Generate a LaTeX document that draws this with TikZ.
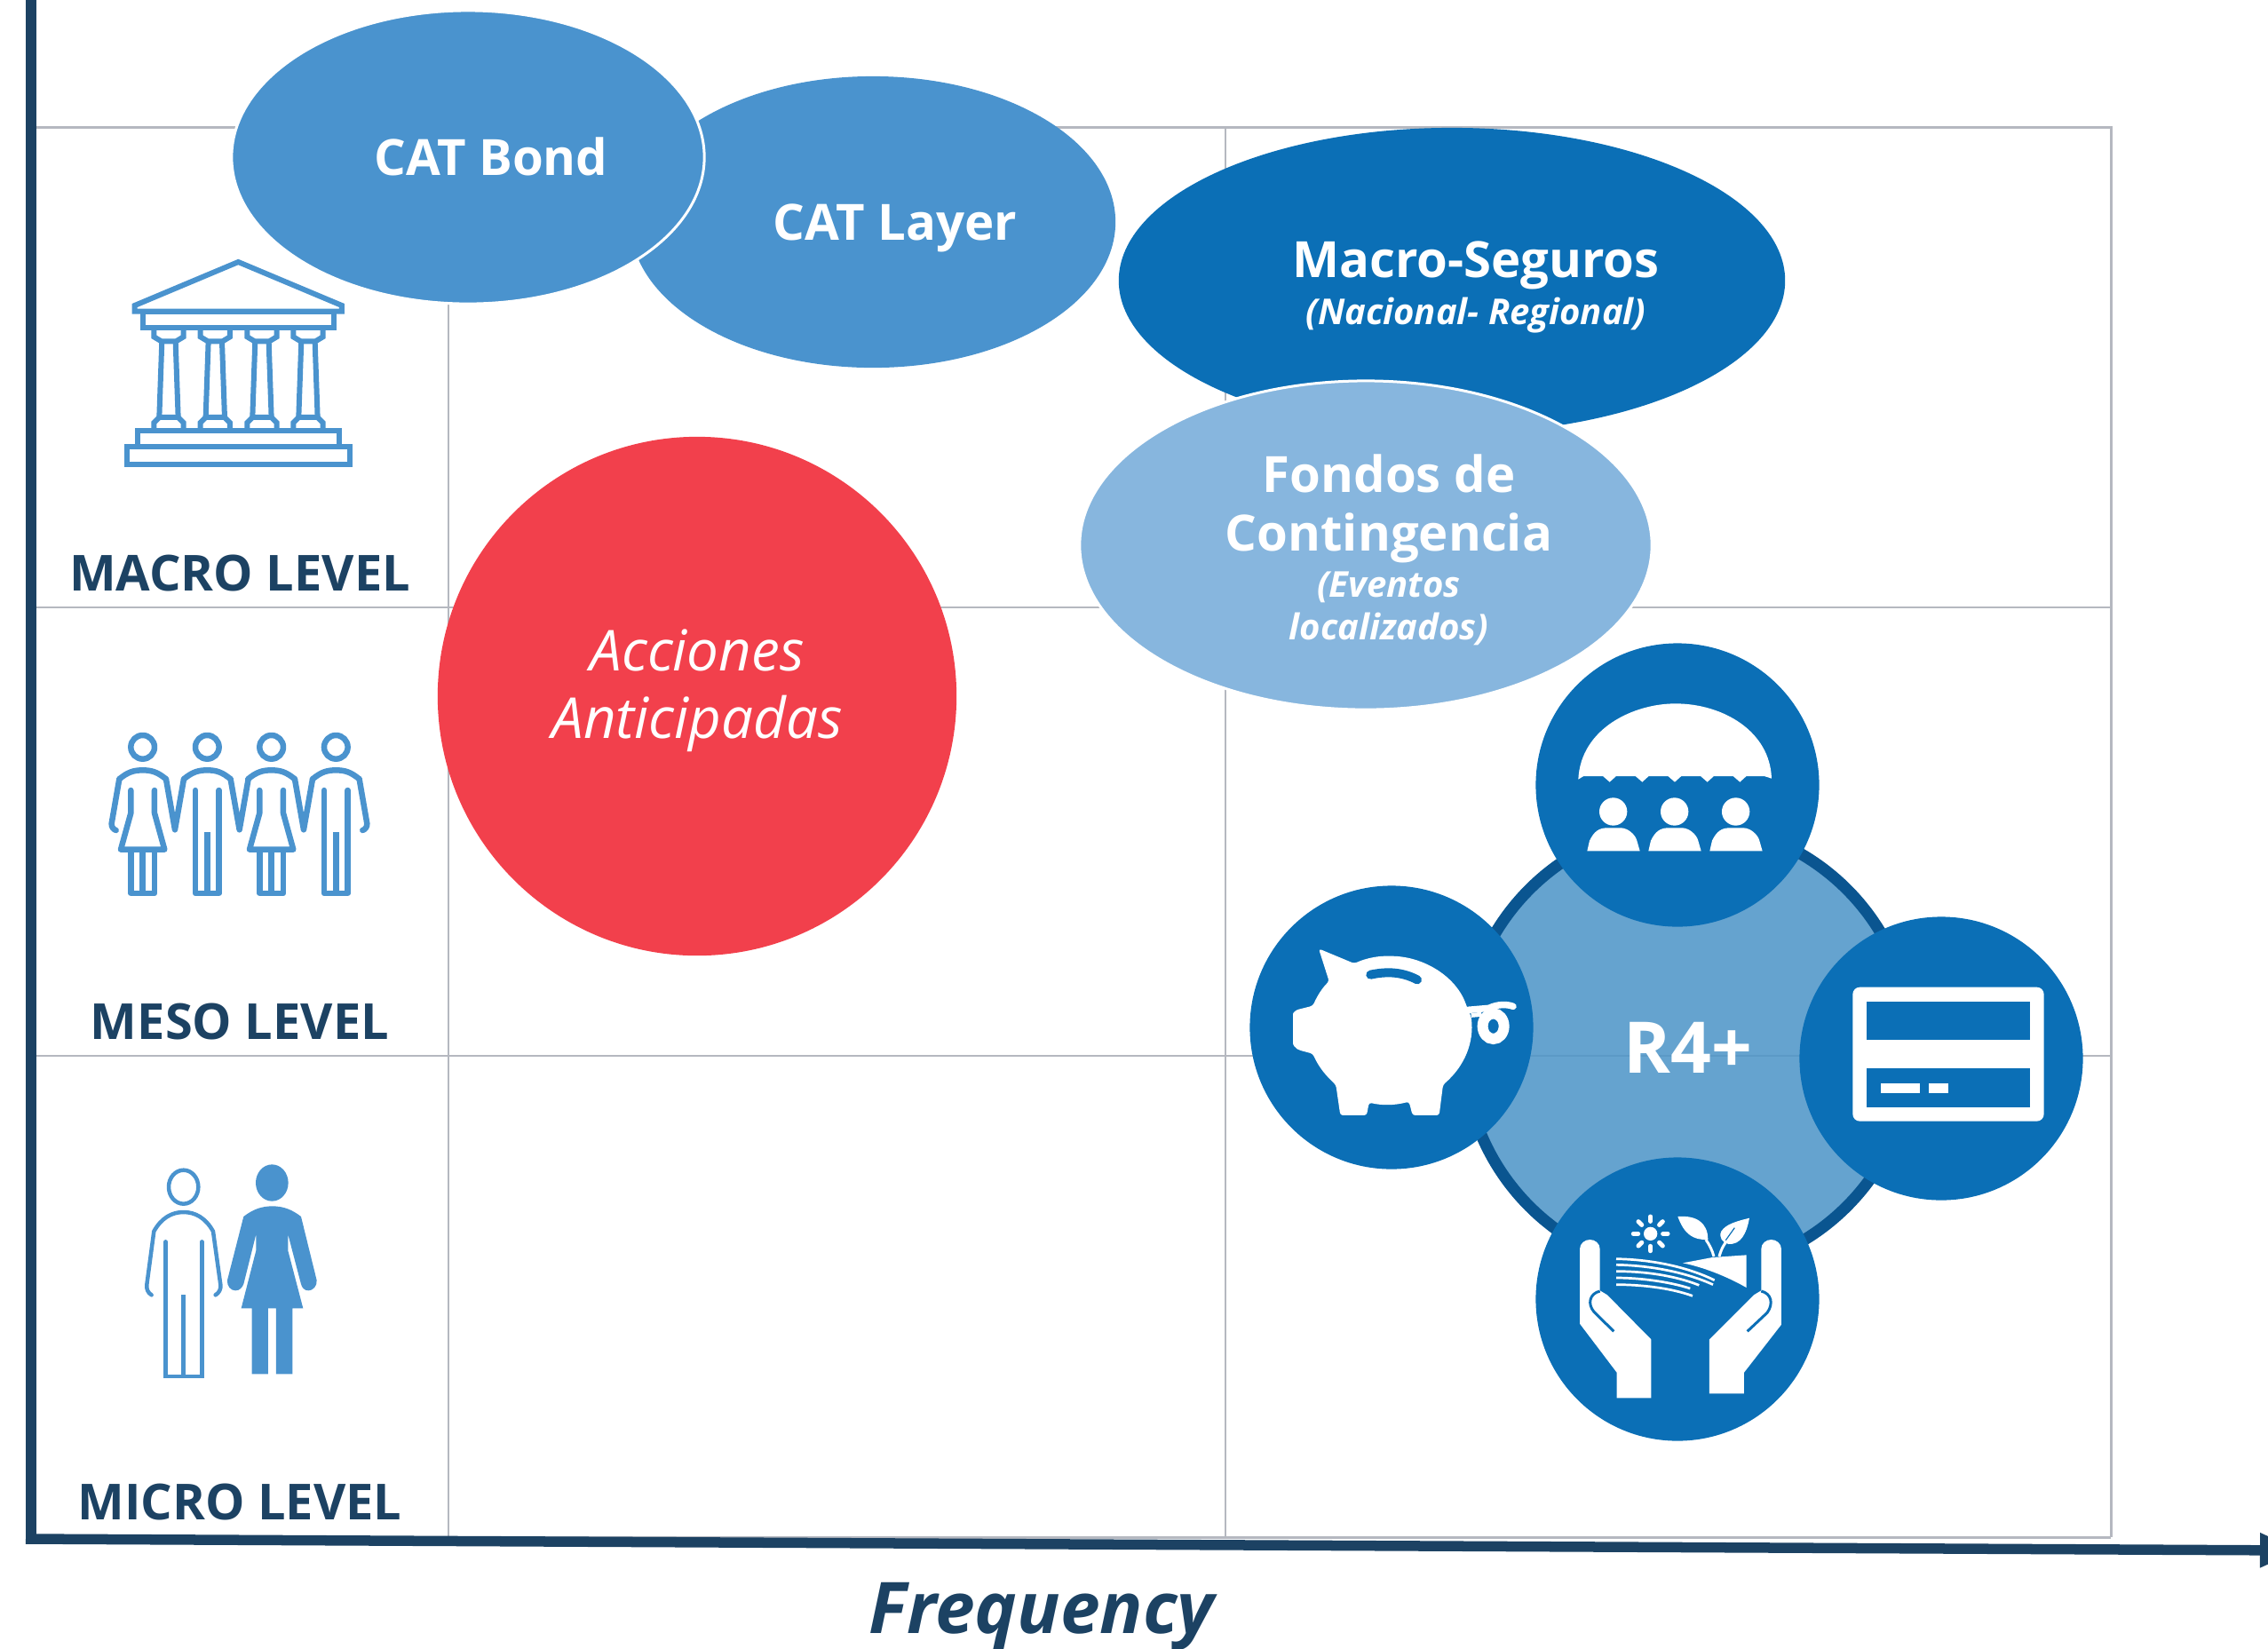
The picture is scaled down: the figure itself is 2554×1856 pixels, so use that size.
\documentclass[tikz,border=0pt]{standalone}
\usepackage{fontspec}
\setmainfont{Open Sans}
\usetikzlibrary{arrows.meta}
\usetikzlibrary{positioning,shapes.geometric,calc}
\definecolor{axisblue}{HTML}{1C4263}
\definecolor{gridgray}{HTML}{B5B8C0}
\definecolor{midblue}{HTML}{4A93CE}
\definecolor{deepblue}{HTML}{0B6FB6}
\definecolor{paleblue}{HTML}{87B6DE}
\definecolor{coral}{HTML}{F2404C}
\definecolor{ringblue}{HTML}{0A5590}
\definecolor{ringfill}{HTML}{4E95C8}
\tikzset{
    blob/.style={
        ellipse,
        inner sep=0pt,
        fill=#1
    },
    iconcirc/.style={
        circle,
        inner sep=0pt,
        fill=deepblue,
        minimum size=3.19cm
    },
    bigtext/.style={
        text=white,
        font=\bfseries\fontsize{16}{20}\selectfont
    },
    subtext/.style={
        text=white,
        font=\bfseries\itshape\fontsize{11.4}{14}\selectfont
    },
    redtext/.style={
        text=white,
        font=\itshape\fontsize{18.1}{22}\selectfont
    },
    levelname/.style={
        text=axisblue,
        font=\bfseries\fontsize{15.9}{20}\selectfont
    },
    gridline/.style={
        draw=gridgray,
        line width=0.025cm
    },
    axisline/.style={
        draw=axisblue,
        line width=0.115cm
    }
}

\begin{document}
\begin{tikzpicture}[x=0.01cm,y=-0.01cm]
  \clip (0,0) rectangle (2554,1856);

  % Grid
  \draw[gridline,line width=0.03cm] (39,143) -- (2377,143) -- (2377,1731);
  \draw[gridline] (39,684) -- (2377,684);
  \draw[gridline] (39,1189) -- (2377,1189);
  \draw[gridline] (505,143) -- (505,1731);
  \draw[gridline] (1380,143) -- (1380,1731);
  \draw[gridline,line width=0.03cm] (39,1731) -- (2377,1731);

  % Axes
  \coordinate (axtop) at (35,0);
  \coordinate (axorigin) at (35,1733);
  \coordinate (axend) at (2590,1746);
  \draw[axisline] (axtop) -- (35,1739);
  \draw[axisline,-{Triangle[length=0.45cm,width=0.36cm]}] (29,1733) -- (axend);

  % Level names
  \node[levelname] (macrotxt) at (270,645) {MACRO LEVEL};
  \node[levelname] (mesotxt) at (270,1150) {MESO LEVEL};
  \node[levelname] (microtxt) at (270,1691) {MICRO LEVEL};
  \node[text=axisblue,font=\bfseries\itshape\fontsize{22.8}{26}\selectfont] (freqtxt) at (1173,1820) {Frequency};

  % Instruments
  \node[blob=midblue,minimum width=5.46cm,minimum height=3.28cm] (catlayer) at (983,250) {};
  \node[blob=midblue,draw=white,line width=0.03cm,minimum width=5.32cm,minimum height=3.3cm] (catbond) at (527,177) {};
  \node[bigtext] (bondtxt) at (553,176) {CAT Bond};
  \node[bigtext] (layertxt) at (1008,257) {CAT Layer};
  \node[blob=deepblue,minimum width=7.5cm,minimum height=3.44cm] (macroseg) at (1635,316) {};
  \node[blob=paleblue,draw=white,line width=0.03cm,minimum width=6.44cm,minimum height=3.7cm] (fondos) at (1538,614) {};
  \node[bigtext] (segtxt) at (1662,299) {Macro-Seguros};
  \node[subtext] (segsub) at (1662,355) {(Nacional- Regional)};
  \node[bigtext] (fondtxta) at (1564,533) {Fondos de};
  \node[bigtext] (fondtxtb) at (1564,606) {Contingencia};
  \node[subtext] (fondsuba) at (1564,661) {(Eventos};
  \node[subtext] (fondsubb) at (1564,708) {localizados)};
  \node[blob=coral,circle,minimum size=5.84cm] (acciones) at (785,784) {};
  \node[redtext] (acctxta) at (785,732) {Acciones};
  \node[redtext] (acctxtb) at (785,815) {Anticipadas};

  % R4+ ring
  \node[circle,inner sep=0pt,minimum size=5.05cm,draw=ringblue,line width=0.13cm,fill=ringfill,fill opacity=0.87] (ring) at (1901,1180) {};
  \node[text=white,font=\bfseries\fontsize{22.8}{25}\selectfont] (ringtxt) at (1901,1180) {R4+};
  \node[iconcirc] (umbrella) at (1889,884) {};
  \node[iconcirc] (piggy) at (1567,1157) {};
  \node[iconcirc] (hands) at (1889,1463) {};
  \node[iconcirc] (card) at (2186,1192) {};

  % Bank
  \begin{scope}[shift={(100,260)},scale=0.3333,midblue,line width=0.06cm]
    \draw (505,105) -- (155,252) -- (155,272) -- (855,272) -- (855,252) -- cycle;
    \draw (183,272) rectangle (828,327);
    \foreach \x in {270,427,585,741}{
      \begin{scope}[shift={(\x,0)}]
        \draw (-50,327) -- (-50,358) -- (-25,373) -- (25,373) -- (50,358) -- (50,327);
        \draw (-23,373) -- (-32,630) -- (32,630) -- (23,373);
        \draw (-32,630) -- (-50,648) -- (-50,675);
        \draw (32,630) -- (50,648) -- (50,675);
      \end{scope}
    }
    \draw (165,675) rectangle (847,730);
    \draw (128,730) rectangle (883,788);
  \end{scope}

  % Four people
  \begin{scope}[shift={(100,800)},scale=0.3333,midblue,line width=0.065cm,line cap=round,line join=round]
    \foreach \x in {182,400,617,835}{
      \draw (\x,124) circle [radius=40];
      \begin{scope}[shift={(\x,0)}]
        \draw (-79,232) .. controls (-50,208) and (-30,202) .. (0,202) .. controls (30,202) and (50,208) .. (79,232);
      \end{scope}
    }
    \foreach \x in {291,509,726}{
      \begin{scope}[shift={(\x,0)}]
        \draw (-30,232) -- (0,403) -- (30,232);
      \end{scope}
    }
    \draw (92,405) .. controls (82,402) and (76,392) .. (77,382) -- (103,232);
    \draw (925,405) .. controls (935,402) and (941,392) .. (940,382) -- (914,232);
    \foreach \x in {182,617}{
      \begin{scope}[shift={(\x,0)}]
        \draw (-40,270) -- (-40,347) -- (-74,470) -- (74,470) -- (40,347) -- (40,270);
        \draw[line cap=butt] (-40,470) -- (-40,618) -- (40,618) -- (40,470);
        \draw[line cap=butt] (0,470) -- (0,618);
      \end{scope}
    }
    \foreach \x in {400,835}{
      \begin{scope}[shift={(\x,0)}]
        \draw (-40,270) -- (-40,618) -- (40,618) -- (40,270);
        \draw[line cap=butt] (0,412) -- (0,618);
      \end{scope}
    }
  \end{scope}

  % Two people
  \begin{scope}[shift={(140,1290)},scale=0.3333,midblue,line width=0.045cm,line cap=round,line join=round]
    \draw (200,140) ellipse [x radius=50,y radius=57];
    \draw (92,505) .. controls (80,498) and (74,485) .. (76,470) -- (100,290) .. controls (125,245) and (160,225) .. (200,225) .. controls (240,225) and (275,245) .. (300,290) -- (325,470) .. controls (327,485) and (320,498) .. (308,505);
    \draw[line join=miter] (140,325) -- (140,780) -- (262,780) -- (262,325);
    \draw[line cap=butt] (200,505) -- (200,780);
    \fill (499,126) ellipse [x radius=55,y radius=62];
    \fill (403,240) .. controls (435,215) and (465,205) .. (500,205) .. controls (535,205) and (565,215) .. (597,240)
      -- (650,455) .. controls (652,475) and (637,490) .. (622,490) .. controls (608,490) and (600,480) .. (597,468)
      -- (553,300) -- (553,355) -- (604,550) -- (568,550) -- (568,772) -- (513,772) -- (513,550) -- (486,550) -- (486,772) -- (431,772) -- (431,550) -- (395,550) -- (445,355) -- (445,300)
      -- (403,468) .. controls (398,480) and (390,490) .. (375,490) .. controls (360,490) and (346,475) .. (348,455) -- cycle;
  \end{scope}

  % Umbrella icon
  \begin{scope}[shift={(1700,710)},scale=0.3333,white]
    \fill (232,503) .. controls (240,330) and (420,247) .. (560,247) .. controls (720,247) and (880,340) .. (885,500)
      -- (860,492) -- (800,492) -- (778,512) -- (755,492) -- (690,492) -- (668,512) -- (645,492) -- (580,492) -- (558,512) -- (535,492)
      -- (470,492) -- (448,512) -- (425,492) -- (360,492) -- (338,512) -- (315,492) -- (250,492) -- cycle;
    \foreach \x in {0,207,414}{
      \begin{scope}[shift={(\x,0)}]
        \fill (350,612) circle [radius=47];
        \fill (262,745) -- (270,710) .. controls (285,680) and (300,667) .. (330,667) -- (375,667) .. controls (400,667) and (425,690) .. (430,710) -- (440,745) -- cycle;
      \end{scope}
    }
  \end{scope}

  % Piggy icon
  \begin{scope}[shift={(1390,980)},scale=0.3333,white]
    \fill[rounded corners=0.03cm] (285,265) -- (405,315) .. controls (450,295) and (490,290) .. (520,290) .. controls (640,290) and (750,360) .. (785,460)
      -- (800,495) .. controls (810,580) and (780,660) .. (705,725) -- (692,828) -- (602,828) -- (590,782) .. controls (540,795) and (500,795) .. (455,785) -- (447,828) -- (358,828) -- (343,725)
      .. controls (310,695) and (285,665) .. (265,620) -- (220,608) .. controls (205,600) and (198,590) .. (198,575) -- (198,495) .. controls (198,480) and (210,472) .. (225,468) -- (265,458)
      .. controls (280,425) and (295,400) .. (320,375) -- cycle;
    \draw[deepblue,line width=0.1cm,line cap=round] (460,353) .. controls (520,340) and (570,345) .. (618,370);
    \draw[line width=0.075cm,line cap=round] (790,472) -- (860,466) .. controls (890,452) and (920,452) .. (942,460);
    \draw[line width=0.05cm] (800,490) -- (835,487);
    \draw[line width=0.12cm] (875,527) ellipse [x radius=36,y radius=43];
  \end{scope}

  % Hands icon
  \begin{scope}[shift={(1710,1290)},scale=0.3333,white]
    \fill (207,350) .. controls (207,330) and (225,318) .. (241,318) .. controls (258,318) and (275,330) .. (275,350) -- (275,490) -- (300,505) -- (448,655) -- (448,853) -- (332,853) -- (332,767) -- (207,602) -- cycle;
    \fill (888,350) .. controls (888,330) and (870,318) .. (854,318) .. controls (837,318) and (820,330) .. (820,350) -- (820,490) -- (795,505) -- (645,655) -- (645,838) -- (762,838) -- (762,767) -- (888,605) -- cycle;
    \draw[deepblue,line width=0.03cm] (322,628) -- (255,562) .. controls (232,535) and (240,500) .. (275,492);
    \draw[deepblue,line width=0.03cm] (773,628) -- (840,565) .. controls (862,535) and (855,500) .. (820,492);
    % sun
    \fill (446,298) circle [radius=23];
    \foreach \a in {0,45,...,315}{
      \draw[line width=0.05cm,line cap=round] ($(446,298)+(\a:42)$) -- ($(446,298)+(\a:58)$);
    }
    % leaves
    \fill (538,240) .. controls (600,235) and (640,260) .. (640,318) .. controls (590,320) and (560,300) .. (538,240);
    \fill (780,245) .. controls (770,300) and (750,335) .. (710,333) .. controls (690,330) and (675,310) .. (685,290) .. controls (700,265) and (740,255) .. (780,245);
    \draw[line width=0.03cm] (633,318) .. controls (645,335) and (655,355) .. (660,375);
    \draw[line width=0.03cm] (678,375) .. controls (685,350) and (695,330) .. (712,312);
    \draw[deepblue,line width=0.012cm] (700,320) -- (730,278);
    % field
    \fill (555,397) -- (655,378) -- (770,370) -- (770,480) .. controls (700,440) and (620,410) .. (555,397);
    \draw[line width=0.027cm] (330,383) .. controls (450,385) and (570,410) .. (662,455);
    \draw[line width=0.027cm] (330,403) .. controls (450,405) and (570,430) .. (657,470);
    \draw[line width=0.027cm] (330,425) .. controls (430,425) and (530,440) .. (610,472);
    \draw[line width=0.027cm] (330,447) .. controls (410,447) and (510,460) .. (580,483);
    \draw[line width=0.027cm] (330,470) .. controls (410,470) and (510,480) .. (588,508);
  \end{scope}

  % Card icon
  \begin{scope}[shift={(2010,1020)},scale=0.3333]
    \fill[white,rounded corners=0.08cm] (229,275) rectangle (875,728);
    \fill[deepblue] (277,324) rectangle (827,453);
    \fill[deepblue] (277,550) rectangle (827,680);
    \fill[white] (324,600) rectangle (456,633);
    \fill[white] (486,600) rectangle (552,633);
  \end{scope}
\end{tikzpicture}
\end{document}
